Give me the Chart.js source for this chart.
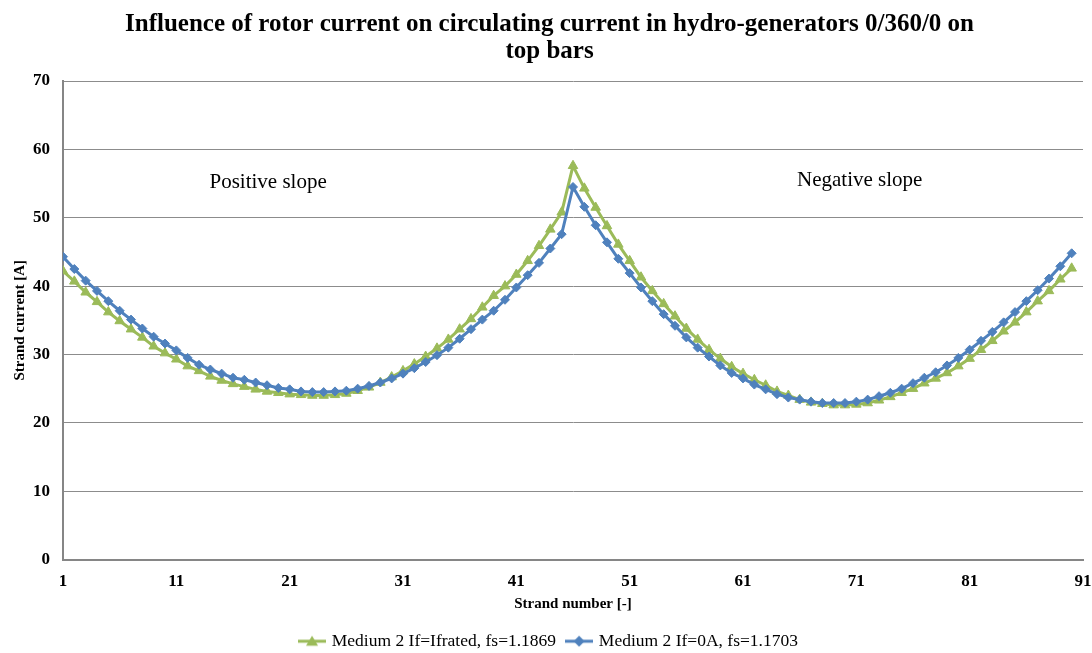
<!DOCTYPE html>
<html>
<head>
<meta charset="utf-8">
<script src="https://cdn.jsdelivr.net/npm/chart.js@4/dist/chart.umd.min.js"></script>
<style>
  html, body { margin: 0; padding: 0; background: #fff; }
  #wrap { width: 1092px; height: 653px; }
</style>
</head>
<body>
<div id="wrap"><canvas id="chart1" width="1092" height="653"></canvas></div>
<script>
// strand numbers 1..90
var strands = [1, 2, 3, 4, 5, 6, 7, 8, 9, 10, 11, 12, 13, 14, 15, 16, 17, 18, 19, 20,
    21, 22, 23, 24, 25, 26, 27, 28, 29, 30, 31, 32, 33, 34, 35, 36, 37, 38, 39, 40,
    41, 42, 43, 44, 45, 46, 47, 48, 49, 50, 51, 52, 53, 54, 55, 56, 57, 58, 59, 60,
    61, 62, 63, 64, 65, 66, 67, 68, 69, 70, 71, 72, 73, 74, 75, 76, 77, 78, 79, 80,
    81, 82, 83, 84, 85, 86, 87, 88, 89, 90];

// Medium 2 If=Ifrated, fs=1.1869
var ifRated = [42.2, 40.7, 39.1, 37.7, 36.2, 34.9, 33.7, 32.5, 31.2, 30.2,
    29.3, 28.3, 27.6, 26.8, 26.2, 25.7, 25.3, 24.9, 24.6, 24.4,
    24.2, 24.1, 24.0, 24.0, 24.1, 24.3, 24.7, 25.2, 25.9, 26.7,
    27.6, 28.6, 29.7, 30.9, 32.2, 33.7, 35.2, 36.9, 38.6, 40.0,
    41.7, 43.7, 45.9, 48.3, 50.8, 57.6, 54.3, 51.5, 48.8, 46.1,
    43.7, 41.3, 39.3, 37.4, 35.6, 33.8, 32.2, 30.7, 29.4, 28.2,
    27.2, 26.3, 25.5, 24.6, 24.0, 23.4, 23.0, 22.8, 22.6, 22.6,
    22.7, 22.9, 23.3, 23.8, 24.4, 25.0, 25.8, 26.5, 27.3, 28.3,
    29.4, 30.7, 32.0, 33.4, 34.7, 36.2, 37.8, 39.3, 41.0, 42.6];

// Medium 2 If=0A, fs=1.1703
var ifZero = [44.3, 42.5, 40.8, 39.3, 37.8, 36.4, 35.1, 33.8, 32.6, 31.6,
    30.6, 29.5, 28.5, 27.8, 27.2, 26.6, 26.3, 25.9, 25.5, 25.1,
    24.9, 24.6, 24.5, 24.5, 24.6, 24.7, 25.0, 25.4, 25.9, 26.5,
    27.2, 28.0, 28.9, 29.9, 31.0, 32.3, 33.7, 35.1, 36.4, 38.0,
    39.8, 41.6, 43.4, 45.5, 47.6, 54.5, 51.6, 48.9, 46.4, 44.0,
    41.9, 39.8, 37.8, 35.9, 34.2, 32.5, 31.0, 29.7, 28.4, 27.3,
    26.5, 25.6, 24.9, 24.2, 23.7, 23.4, 23.1, 22.9, 22.9, 22.9,
    23.1, 23.4, 23.9, 24.4, 25.0, 25.8, 26.6, 27.4, 28.4, 29.5,
    30.7, 32.0, 33.3, 34.7, 36.2, 37.8, 39.4, 41.1, 42.9, 44.8];

var seriesNames = ['Medium 2 If=Ifrated, fs=1.1869', 'Medium 2 If=0A, fs=1.1703'];
var xTicks = [1, 11, 21, 31, 41, 51, 61, 71, 81, 91];

// text notes inside the plot, in data units
var noteText = ['Positive slope', 'Negative slope'];
var noteX = [19.1, 71.3];
var noteY = [55.2, 55.5];

var GREEN = '#9BBB59';
var BLUE = '#4F81BD';
var SERIF = "'Liberation Serif', 'Times New Roman', serif";

function toPoints(xs, ys) {
    return xs.map(function (x, i) { return { x: x, y: ys[i] }; });
}

// small legend symbol: line with marker in the middle
function legendIcon(color, shape) {
    var c = document.createElement('canvas');
    c.width = 28;
    c.height = 12;
    var g = c.getContext('2d');
    g.strokeStyle = color;
    g.fillStyle = color;
    g.lineWidth = 3;
    g.beginPath();
    g.moveTo(0, 6);
    g.lineTo(28, 6);
    g.stroke();
    g.beginPath();
    if (shape === 'triangle') {
        g.moveTo(14, 0.5);
        g.lineTo(20, 10.5);
        g.lineTo(8, 10.5);
    } else {
        g.moveTo(14, 0.5);
        g.lineTo(19.5, 6);
        g.lineTo(14, 11.5);
        g.lineTo(8.5, 6);
    }
    g.closePath();
    g.fill();
    return c;
}

var notesPlugin = {
    id: 'notes',
    afterDatasetsDraw: function (chart) {
        var ctx = chart.ctx;
        ctx.save();
        ctx.font = '21px ' + SERIF;
        ctx.fillStyle = '#000';
        ctx.textAlign = 'center';
        ctx.textBaseline = 'middle';
        for (var i = 0; i < noteText.length; i++) {
            ctx.fillText(noteText[i],
                chart.scales.x.getPixelForValue(noteX[i]),
                chart.scales.y.getPixelForValue(noteY[i]));
        }
        ctx.restore();
    }
};

var icons = [legendIcon(GREEN, 'triangle'), legendIcon(BLUE, 'diamond')];

var chartData = {
    datasets: [{
        label: seriesNames[0],
        data: toPoints(strands, ifRated),
        borderColor: GREEN,
        backgroundColor: GREEN,
        borderWidth: 3,
        pointStyle: 'triangle',
        pointRadius: 5.5,
        pointBorderWidth: 1,
        order: 1,
    }, {
        label: seriesNames[1],
        data: toPoints(strands, ifZero),
        borderColor: BLUE,
        backgroundColor: BLUE,
        borderWidth: 3,
        pointStyle: 'rectRot',
        pointRadius: 4.5,
        pointBorderWidth: 1,
        order: 0,
    }]
};

var chartOptions = {
    responsive: false,
    maintainAspectRatio: false,
    animation: false,
    layout: {
        autoPadding: false,
        padding: { left: 7, right: 0, top: 6, bottom: -7 }
    },
    elements: { line: { tension: 0 } },
    plugins: {
        title: {
            display: true,
            text: ['Influence of rotor current on circulating current in hydro-generators 0/360/0 on', 'top bars'],
            color: '#000',
            font: { family: SERIF, size: 25, weight: 'bold', lineHeight: 1.08 },
            padding: { top: 5, bottom: 16 },
        },
        legend: {
            position: 'bottom',
            labels: {
                usePointStyle: true,
                pointStyleWidth: 22,
                color: '#000',
                font: { family: SERIF, size: 17.5 },
                padding: 12,
                generateLabels: function (chart) {
                    return chart.data.datasets.map(function (ds, i) {
                        return {
                            text: ds.label,
                            pointStyle: icons[i],
                            fillStyle: ds.borderColor,
                            strokeStyle: ds.borderColor,
                            lineWidth: 0,
                            hidden: false,
                            datasetIndex: i,
                        };
                    });
                }
            }
        },
        tooltip: { enabled: false },
    },
    scales: {
        x: {
            type: 'linear',
            min: 1,
            max: 91,
            afterBuildTicks: function (axis) {
                axis.ticks = xTicks.map(function (v) { return { value: v }; });
            },
            afterFit: function (axis) {
                // let the plot reach close to the right edge, as in the original
                axis.paddingRight = 9;
            },
            grid: { display: false, drawTicks: false },
            border: { color: '#868686', width: 2 },
            ticks: {
                color: '#000',
                font: { family: SERIF, size: 17, weight: 'bold' },
                padding: 12,
                maxRotation: 0,
                autoSkip: false,
            },
            title: {
                display: true,
                text: 'Strand number [-]',
                color: '#000',
                font: { family: SERIF, size: 15, weight: 'bold' },
                padding: { top: -9, bottom: 7.5 },
            }
        },
        y: {
            min: 0,
            max: 70,
            grid: { color: '#8c8c8c', lineWidth: 1, drawTicks: false },
            border: { color: '#868686', width: 2 },
            ticks: {
                stepSize: 10,
                color: '#000',
                font: { family: SERIF, size: 17, weight: 'bold' },
                padding: 13,
            },
            title: {
                display: true,
                text: 'Strand current [A]',
                color: '#000',
                font: { family: SERIF, size: 15, weight: 'bold' },
                padding: { top: 4, bottom: -9 },
            }
        }
    }
};

var ctx = document.getElementById('chart1').getContext('2d');
var myChart = new Chart(ctx, {
    type: 'line',
    data: chartData,
    options: chartOptions,
    plugins: [notesPlugin]
});
</script>
</body>
</html>
